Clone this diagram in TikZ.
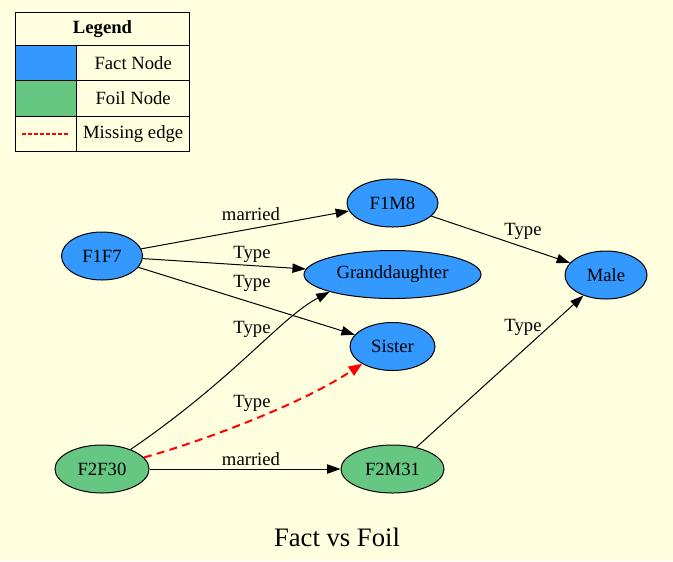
\documentclass[tikz,border=0pt]{standalone}
\usepackage{fontspec}
\setmainfont{Liberation Serif}
\usepackage{tikz}
\usetikzlibrary{arrows.meta, positioning, shapes.geometric}

\definecolor{bgyellow}{RGB}{255,255,224}
\definecolor{factblue}{RGB}{51,153,255}
\definecolor{foilgreen}{RGB}{102,199,130}

\tikzset{
  gnode/.style={ellipse, draw, line width=0.75pt, inner sep=0pt, minimum height=36pt,
    font=\fontsize{14}{16}\selectfont},
  fact/.style={gnode, fill=factblue},
  foil/.style={gnode, fill=foilgreen},
  lbl/.style={font=\fontsize{14}{16}\selectfont, inner sep=0pt},
  edge/.style={-{Triangle[length=10pt,width=7pt]}, line width=0.75pt},
  missing/.style={-{Triangle[length=10pt,width=8pt]}, draw=red, line width=1.5pt,
    dash pattern=on 6pt off 4pt},
  legcell/.style={draw, line width=0.75pt, inner sep=0pt, outer sep=0pt, minimum height=26.5pt,
    font=\fontsize{14}{16}\selectfont}
}

\begin{document}
\begin{tikzpicture}[x=0.75pt, y=-0.75pt]
        % Background
        \fill[bgyellow] (0,0) rectangle (673,561);
        \useasboundingbox (0,0) rectangle (673,561);

        % Legend
        \node[legcell, anchor=north west, minimum width=130.5pt, minimum height=24.75pt] (legHead) at (15.5,12.5) {\bfseries Legend};
        \node[legcell, anchor=north west, minimum width=46pt, fill=factblue] (legFactKey) at (legHead.south west) {};
        \node[legcell, right=0pt of legFactKey, minimum width=84.5pt] (legFact) {Fact Node};
        \node[legcell, below=0pt of legFactKey, minimum width=46pt, fill=foilgreen] (legFoilKey) {};
        \node[legcell, right=0pt of legFoilKey, minimum width=84.5pt] (legFoil) {Foil Node};
        \node[legcell, below=0pt of legFoilKey, minimum width=46pt] (legMissKey) {};
        \node[legcell, right=0pt of legMissKey, minimum width=84.5pt] (legMiss) {Missing edge};
        \draw[color=red, line width=1pt, dash pattern=on 3pt off 1.5pt, shorten <=5pt, shorten >=5pt]
          (legMissKey.west) -- (legMissKey.east);

        % Fact nodes
        \node[fact, minimum width=60.75pt] (F1F7) at (102,256) {F1F7};
        \node[fact, minimum width=68.25pt] (F1M8) at (392.5,203) {F1M8};
        \node[fact, minimum width=132.75pt] (Granddaughter) at (392.5,274.5) {Granddaughter};
        \node[fact, minimum width=63.75pt] (Sister) at (392.5,346.5) {Sister};
        \node[fact, minimum width=61.5pt] (Male) at (606,275) {Male};

        % Foil nodes
        \node[foil, minimum width=70.5pt] (F2F30) at (102,469) {F2F30};
        \node[foil, minimum width=77.25pt] (F2M31) at (392.5,469) {F2M31};

        % Edges
        \draw[edge] (F1F7) -- (F1M8);
        \draw[edge] (F1F7) -- (Granddaughter);
        \draw[edge] (F1F7) -- (Sister);
        \draw[edge] (F1M8) -- (Male);
        \draw[edge] (F2F30) .. controls (235,378) and (280,318) .. (Granddaughter.south west);
        \draw[missing] (F2F30) .. controls (200,442) and (300,405) .. (Sister.south west);
        \draw[edge] (F2F30) -- (F2M31);
        \draw[edge] (F2M31) -- (Male);

        % Edge labels
        \node[lbl] (lblMarriedA) at (251,214) {married};
        \node[lbl] (lblTypeA) at (252,254) {Type};
        \node[lbl] (lblTypeB) at (252,283) {Type};
        \node[lbl] (lblTypeC) at (252,329) {Type};
        \node[lbl] (lblTypeD) at (252,403) {Type};
        \node[lbl] (lblMarriedB) at (251,459) {married};
        \node[lbl] (lblTypeE) at (523,231) {Type};
        \node[lbl] (lblTypeF) at (523,327) {Type};

        % Title
        \node[font=\fontsize{20}{24}\selectfont] (title) at (337,537) {Fact vs Foil};
    \end{tikzpicture}
\end{document}
